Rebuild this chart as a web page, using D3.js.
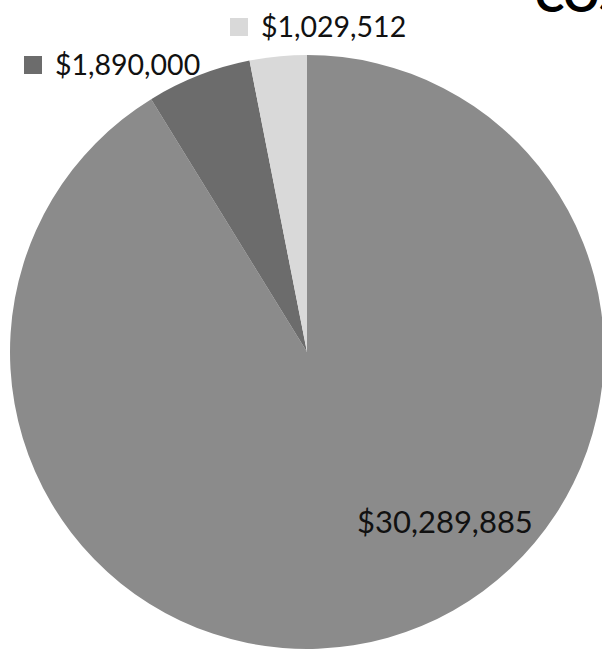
<!DOCTYPE html>
<html>
<head>
<meta charset="utf-8">
<script src="https://cdn.jsdelivr.net/npm/d3@7"></script>
<style>
  body { margin: 0; background: #fff; overflow: hidden; }
  svg { display: block; }
</style>
</head>
<body>
<div id="chart"></div>
<script>
// slice values, in drawing order (clockwise from 12 o'clock)
const LABELS = ["$30,289,885", "$1,890,000", "$1,029,512"];
const VALUES = [30289885, 1890000, 1029512];
const COLORS = ["#8b8b8b", "#6c6c6c", "#d9d9d9"];
const TITLE = "COST";

const FRAME_WIDTH = 602;
const FRAME_HEIGHT = 662;
const CX = 307;
const CY = 352;
const RADIUS = 297;

const FRAME1 = d3.select("#chart")
                  .append("svg")
                    .attr("width", FRAME_WIDTH)
                    .attr("height", FRAME_HEIGHT);

const pie = d3.pie().sort(null).value((d) => d);
const arc = d3.arc().innerRadius(0).outerRadius(RADIUS);
const arcs = pie(VALUES);

const G = FRAME1.append("g")
  .attr("transform", "translate(" + CX + "," + CY + ")");

G.selectAll("path")
  .data(arcs)
  .enter()
  .append("path")
    .attr("d", arc)
    .attr("fill", (d, i) => COLORS[i]);

// label inside the big slice
const FONT = "Lato, 'Open Sans', sans-serif";
const bigLabel = d3.arc().innerRadius(RADIUS * 0.737).outerRadius(RADIUS * 0.737);
const a = arcs[0].startAngle + 2.46;
const c = bigLabel.centroid({startAngle: a, endAngle: a});
G.append("text")
  .attr("x", c[0])
  .attr("y", c[1] + 11)
  .attr("text-anchor", "middle")
  .attr("font-family", FONT)
  .attr("font-size", 31)
  .attr("fill", "#111")
  .text(LABELS[0]);

// legend-style labels for the two small slices
const LEGEND = [
  {i: 1, x: 24, y: 56},
  {i: 2, x: 230, y: 18}
];
LEGEND.forEach((l) => {
  FRAME1.append("rect")
    .attr("x", l.x).attr("y", l.y)
    .attr("width", 18).attr("height", 18)
    .attr("fill", COLORS[l.i]);
  FRAME1.append("text")
    .attr("x", l.x + 31)
    .attr("y", l.y + 19)
    .attr("font-family", FONT)
    .attr("font-size", 28.5)
    .attr("fill", "#111")
    .text(LABELS[l.i]);
});

// title, mostly cut off at the top right
FRAME1.append("text")
  .attr("x", 535)
  .attr("y", 12)
  .attr("font-family", FONT)
  .attr("font-weight", "bold")
  .attr("font-size", 44)
  .attr("fill", "#000")
  .text(TITLE);
</script>
</body>
</html>
